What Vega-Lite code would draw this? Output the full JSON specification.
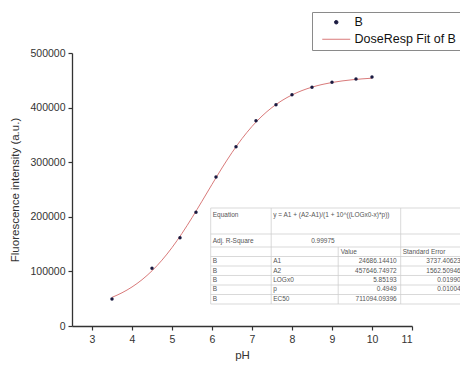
{
  "$schema": "https://vega.github.io/schema/vega-lite/v6.json",
  "width": 340,
  "height": 273,
  "autosize": {"type": "none"},
  "padding": {"left": 72, "top": 53, "right": 48, "bottom": 39},
  "background": "white",
  "config": {
    "view": {"stroke": null},
    "font": "Liberation Sans",
    "axis": {
      "grid": false,
      "domainColor": "#333333",
      "domainWidth": 1.3,
      "tickColor": "#333333",
      "tickWidth": 1.2,
      "labelFont": "Liberation Sans",
      "labelFontSize": 10.5,
      "labelColor": "#333333",
      "titleFont": "Liberation Sans",
      "titleFontSize": 11.5,
      "titleFontWeight": "normal",
      "titleColor": "#333333"
    },
    "legend": {
      "orient": "none",
      "legendX": 240,
      "legendY": -41,
      "padding": 4,
      "strokeColor": "#8a8a8a",
      "fillColor": "white",
      "labelFont": "Liberation Sans",
      "labelFontSize": 12.5,
      "labelColor": "#111111",
      "symbolSize": 64,
      "symbolOffset": 14,
      "rowPadding": 4,
      "labelOffset": 12
    }
  },
  "datasets": {
    "points": [
      {"pH": 3.5, "intensity": 49500, "series": "B"},
      {"pH": 4.5, "intensity": 105700, "series": "B"},
      {"pH": 5.2, "intensity": 161500, "series": "B"},
      {"pH": 5.6, "intensity": 208200, "series": "B"},
      {"pH": 6.1, "intensity": 272900, "series": "B"},
      {"pH": 6.6, "intensity": 328400, "series": "B"},
      {"pH": 7.1, "intensity": 376000, "series": "B"},
      {"pH": 7.6, "intensity": 405300, "series": "B"},
      {"pH": 8.0, "intensity": 423600, "series": "B"},
      {"pH": 8.5, "intensity": 437200, "series": "B"},
      {"pH": 9.0, "intensity": 446300, "series": "B"},
      {"pH": 9.6, "intensity": 452400, "series": "B"},
      {"pH": 10.0, "intensity": 456000, "series": "B"}
    ],
    "fit": [
      {"pH": 3.5, "intensity": 52467, "series": "DoseResp Fit of B"},
      {"pH": 3.75, "intensity": 60841, "series": "DoseResp Fit of B"},
      {"pH": 4.0, "intensity": 71477, "series": "DoseResp Fit of B"},
      {"pH": 4.25, "intensity": 84764, "series": "DoseResp Fit of B"},
      {"pH": 4.5, "intensity": 101070, "series": "DoseResp Fit of B"},
      {"pH": 4.75, "intensity": 120667, "series": "DoseResp Fit of B"},
      {"pH": 5.0, "intensity": 143622, "series": "DoseResp Fit of B"},
      {"pH": 5.25, "intensity": 169679, "series": "DoseResp Fit of B"},
      {"pH": 5.5, "intensity": 198307, "series": "DoseResp Fit of B"},
      {"pH": 5.75, "intensity": 228614, "series": "DoseResp Fit of B"},
      {"pH": 6.0, "intensity": 259379, "series": "DoseResp Fit of B"},
      {"pH": 6.25, "intensity": 289445, "series": "DoseResp Fit of B"},
      {"pH": 6.5, "intensity": 317663, "series": "DoseResp Fit of B"},
      {"pH": 6.75, "intensity": 343180, "series": "DoseResp Fit of B"},
      {"pH": 7.0, "intensity": 365520, "series": "DoseResp Fit of B"},
      {"pH": 7.25, "intensity": 384497, "series": "DoseResp Fit of B"},
      {"pH": 7.5, "intensity": 400227, "series": "DoseResp Fit of B"},
      {"pH": 7.75, "intensity": 413001, "series": "DoseResp Fit of B"},
      {"pH": 8.0, "intensity": 423189, "series": "DoseResp Fit of B"},
      {"pH": 8.25, "intensity": 431208, "series": "DoseResp Fit of B"},
      {"pH": 8.5, "intensity": 437457, "series": "DoseResp Fit of B"},
      {"pH": 8.75, "intensity": 442280, "series": "DoseResp Fit of B"},
      {"pH": 9.0, "intensity": 445989, "series": "DoseResp Fit of B"},
      {"pH": 9.25, "intensity": 448820, "series": "DoseResp Fit of B"},
      {"pH": 9.5, "intensity": 450975, "series": "DoseResp Fit of B"},
      {"pH": 9.75, "intensity": 452610, "series": "DoseResp Fit of B"},
      {"pH": 10.0, "intensity": 453847, "series": "DoseResp Fit of B"}
    ],
    "grid": [
      {"x1": 5.9675, "y1": 216117, "x2": 12.44, "y2": 216117},
      {"x1": 5.9675, "y1": 168498, "x2": 12.44, "y2": 168498},
      {"x1": 5.9675, "y1": 144689, "x2": 12.44, "y2": 144689},
      {"x1": 5.9675, "y1": 127289, "x2": 12.44, "y2": 127289},
      {"x1": 5.9675, "y1": 109890, "x2": 12.44, "y2": 109890},
      {"x1": 5.9675, "y1": 92491, "x2": 12.44, "y2": 92491},
      {"x1": 5.9675, "y1": 75092, "x2": 12.44, "y2": 75092},
      {"x1": 5.9675, "y1": 57692, "x2": 12.44, "y2": 57692},
      {"x1": 5.9675, "y1": 40293, "x2": 12.44, "y2": 40293},
      {"x1": 5.9675, "y1": 216117, "x2": 5.9675, "y2": 40293},
      {"x1": 7.48, "y1": 216117, "x2": 7.48, "y2": 40293},
      {"x1": 10.7175, "y1": 216117, "x2": 10.7175, "y2": 40293},
      {"x1": 9.155, "y1": 144689, "x2": 9.155, "y2": 40293}
    ],
    "textLeft": [
      {"x": 6.0175, "y": 203297, "t": "Equation"},
      {"x": 6.0175, "y": 155678, "t": "Adj. R-Square"},
      {"x": 6.0175, "y": 119048, "t": "B"},
      {"x": 6.0175, "y": 101648, "t": "B"},
      {"x": 6.0175, "y": 84249, "t": "B"},
      {"x": 6.0175, "y": 66850, "t": "B"},
      {"x": 6.0175, "y": 49451, "t": "B"},
      {"x": 7.53, "y": 203297, "t": "y = A1 + (A2-A1)/(1 + 10^((LOGx0-x)*p))"},
      {"x": 7.53, "y": 119048, "t": "A1"},
      {"x": 7.53, "y": 101648, "t": "A2"},
      {"x": 7.53, "y": 84249, "t": "LOGx0"},
      {"x": 7.53, "y": 66850, "t": "p"},
      {"x": 7.53, "y": 49451, "t": "EC50"},
      {"x": 9.2175, "y": 135531, "t": "Value"},
      {"x": 10.7675, "y": 135531, "t": "Standard Error"}
    ],
    "textRight": [
      {"x": 9.0675, "y": 155678, "t": "0.99975"},
      {"x": 10.6175, "y": 119048, "t": "24686.14410"},
      {"x": 10.6175, "y": 101648, "t": "457646.74972"},
      {"x": 10.6175, "y": 84249, "t": "5.85193"},
      {"x": 10.6175, "y": 66850, "t": "0.4949"},
      {"x": 10.6175, "y": 49451, "t": "711094.09396"},
      {"x": 12.2175, "y": 119048, "t": "3737.40623"},
      {"x": 12.2175, "y": 101648, "t": "1562.50946"},
      {"x": 12.2175, "y": 84249, "t": "0.01990"},
      {"x": 12.2175, "y": 66850, "t": "0.01004"}
    ]
  },
  "layer": [
    {
      "data": {"name": "fit"},
      "mark": {"type": "line", "interpolate": "monotone", "strokeWidth": 1},
      "encoding": {
        "x": {
          "field": "pH", "type": "quantitative", "title": "pH",
          "scale": {"domain": [2.5, 11], "nice": false, "zero": false},
          "axis": {
            "values": [3, 3.5, 4, 4.5, 5, 5.5, 6, 6.5, 7, 7.5, 8, 8.5, 9, 9.5, 10, 10.5, 11],
            "labelExpr": "datum.value % 1 === 0 ? datum.label : ''",
            "tickSize": {"condition": {"test": "datum.value % 1 !== 0", "value": 2.5}, "value": 4},
            "labelPadding": 4,
            "titlePadding": 5
          }
        },
        "y": {
          "field": "intensity", "type": "quantitative", "title": "Fluorescence intensity (a.u.)",
          "scale": {"domain": [0, 500000], "nice": false},
          "axis": {
            "values": [0, 50000, 100000, 150000, 200000, 250000, 300000, 350000, 400000, 450000, 500000],
            "format": "d",
            "labelExpr": "datum.value % 100000 === 0 ? datum.label : ''",
            "tickSize": {"condition": {"test": "datum.value % 100000 !== 0", "value": 2.5}, "value": 4},
            "labelPadding": 3,
            "titlePadding": 9
          }
        },
        "color": {
          "field": "series", "type": "nominal",
          "scale": {"domain": ["B", "DoseResp Fit of B"], "range": ["#1a1a40", "#d97a7a"]},
          "legend": {
            "title": null,
            "encode": {
              "symbols": {
                "update": {
                  "shape": {"signal": "datum.value === 'B' ? 'circle' : 'M-3.5,0H3.5'"},
                  "size": {"signal": "datum.value === 'B' ? 12 : 64"},
                  "fill": {"signal": "datum.value === 'B' ? '#1a1a40' : 'transparent'"},
                  "stroke": {"signal": "datum.value === 'B' ? 'transparent' : '#d97a7a'"},
                  "strokeWidth": {"value": 1}
                }
              }
            }
          }
        }
      }
    },
    {
      "data": {"name": "points"},
      "mark": {"type": "point", "filled": true, "size": 12, "opacity": 1},
      "encoding": {
        "x": {"field": "pH", "type": "quantitative", "title": "pH"},
        "y": {"field": "intensity", "type": "quantitative", "title": "Fluorescence intensity (a.u.)"},
        "color": {"field": "series", "type": "nominal"}
      }
    },
    {
      "data": {"name": "grid"},
      "mark": {"type": "rule", "color": "#cfcfcf", "strokeWidth": 0.8},
      "encoding": {
        "x": {"field": "x1", "type": "quantitative", "title": "pH"},
        "y": {"field": "y1", "type": "quantitative", "title": "Fluorescence intensity (a.u.)"},
        "x2": {"field": "x2"},
        "y2": {"field": "y2"}
      }
    },
    {
      "data": {"name": "textLeft"},
      "mark": {"type": "text", "align": "left", "baseline": "middle", "fontSize": 6.5, "color": "#555555", "font": "Liberation Sans"},
      "encoding": {
        "x": {"field": "x", "type": "quantitative", "title": "pH"},
        "y": {"field": "y", "type": "quantitative", "title": "Fluorescence intensity (a.u.)"},
        "text": {"field": "t"}
      }
    },
    {
      "data": {"name": "textRight"},
      "mark": {"type": "text", "align": "right", "baseline": "middle", "fontSize": 6.5, "color": "#555555", "font": "Liberation Sans"},
      "encoding": {
        "x": {"field": "x", "type": "quantitative", "title": "pH"},
        "y": {"field": "y", "type": "quantitative", "title": "Fluorescence intensity (a.u.)"},
        "text": {"field": "t"}
      }
    }
  ]
}
